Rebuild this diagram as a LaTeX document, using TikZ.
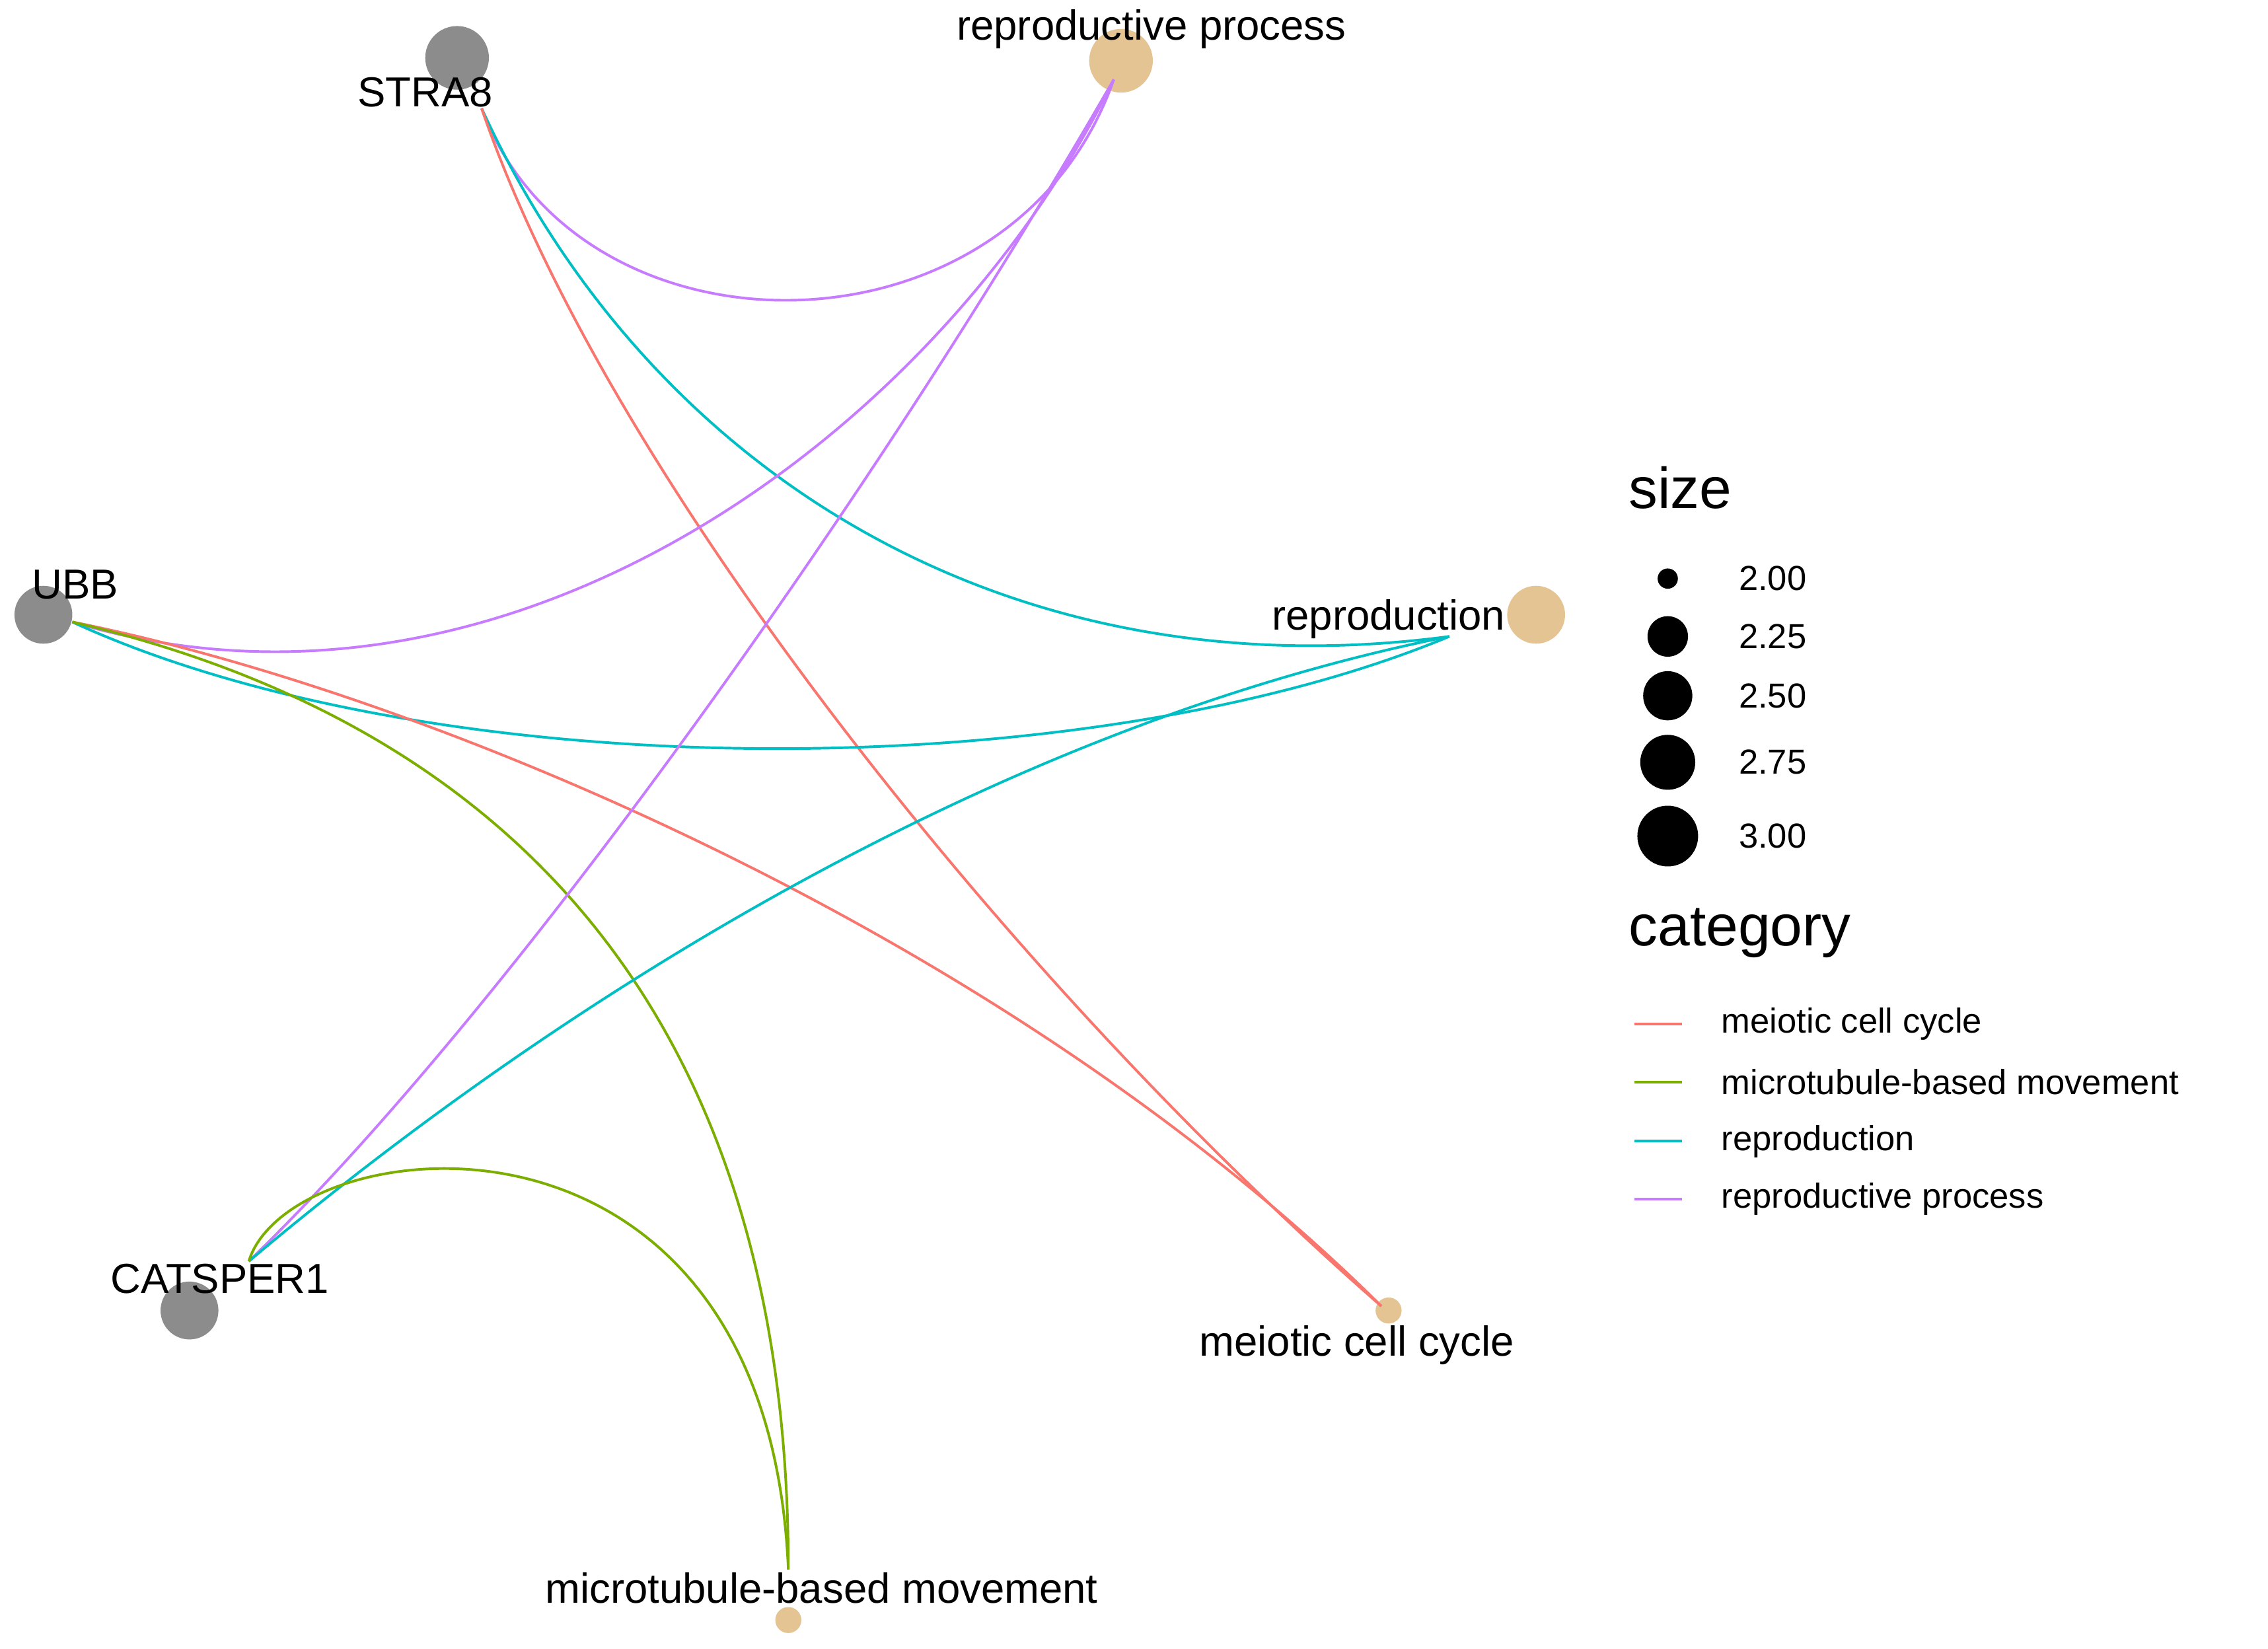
\documentclass[tikz,border=0pt]{standalone}
\usepackage{fontspec}
\setmainfont{Liberation Sans}
\begin{document}
\begin{tikzpicture}[x=1pt,y=-1pt,
 gene/.style={circle,fill=gray!50!black!60,draw=none,inner sep=0pt},
 cat/.style={circle,fill=tan,draw=none,inner sep=0pt},
 lab/.style={font=\fontsize{29}{32}\selectfont,inner sep=0pt},
 leg/.style={font=\fontsize{24}{28}\selectfont,inner sep=0pt,anchor=west},
 ttl/.style={font=\fontsize{40}{44}\selectfont,inner sep=0pt,anchor=west},
 e/.style={line width=1.8pt}]
\definecolor{tan}{RGB}{229,196,148}
\definecolor{cr}{HTML}{F8766D}\definecolor{cg}{HTML}{7CAE00}
\definecolor{cc}{HTML}{00BFC4}\definecolor{cp}{HTML}{C77CFF}
\useasboundingbox (0,0) rectangle (1568,1140);
\fill[white] (0,0) rectangle (1568,1140);
% nodes
\node[gene,minimum size=44pt] (STRA8) at (316,40) {};
\node[cat,minimum size=44pt] (RP) at (775,42) {};
\node[gene,minimum size=40pt] (UBB) at (30,425) {};
\node[cat,minimum size=40pt] (R) at (1062,425) {};
\node[gene,minimum size=40pt] (CAT) at (131,906) {};
\node[cat,minimum size=18pt] (M) at (960,906) {};
\node[cat,minimum size=18pt] (T) at (545,1120) {};
\coordinate (sE) at (333,75); \coordinate (rpE) at (770,55);
\coordinate (rE) at (1002,440); \coordinate (uE) at (50,430);
\coordinate (cE) at (172,872); \coordinate (mE) at (955,903);
\coordinate (tE) at (545,1085);
% edges
\draw[e,cp] (sE) .. controls (400,255) and (700,255) .. (rpE);
\draw[e,cc] (sE) .. controls (450,330) and (700,480) .. (rE);
\draw[e,cr] (sE) .. controls (420,330) and (700,680) .. (mE);
\draw[e,cp] (uE) .. controls (350,520) and (650,300) .. (rpE);
\draw[e,cc] (uE) .. controls (300,545) and (750,545) .. (rE);
\draw[e,cr] (uE) .. controls (300,480) and (700,650) .. (mE);
\draw[e,cg] (uE) .. controls (350,500) and (545,700) .. (tE);
\draw[e,cp] (cE) .. controls (350,700) and (600,350) .. (rpE);
\draw[e,cc] (cE) .. controls (400,680) and (700,500) .. (rE);
\draw[e,cg] (cE) .. controls (200,780) and (530,740) .. (tE);
% labels
\node[lab] (lS) at (294,64) {STRA8};
\node[lab] (lRP) at (796,20) {reproductive process};
\node[lab] (lU) at (52,404) {UBB};
\node[lab] (lR) at (960,428) {reproduction};
\node[lab] (lC) at (152,884) {CATSPER1};
\node[lab] (lM) at (938,930) {meiotic cell cycle};
\node[lab] (lT) at (568,1098) {microtubule-based movement};
% legend
\node[ttl] (ts) at (1126,337) {size};
\foreach \y/\r/\t [count=\i] in {400/7/2.00,440/14/2.25,481/17/2.50,527/19/2.75,578/21/3.00}{
 \node[circle,fill=black,inner sep=0pt,minimum size=2*\r pt] (d\i) at (1153,\y) {};
 \node[leg] (dl\i) at (1202,\y) {\t};}
\node[ttl] (tc) at (1126,645) {category};
\foreach \y/\c/\t [count=\i] in {708/cr/meiotic cell cycle,748/cg/microtubule-based movement,789/cc/reproduction,829/cp/reproductive process}{
 \coordinate (ka\i) at (1130,\y); \coordinate (kb\i) at (1163,\y);
 \draw[e,\c] (ka\i) -- (kb\i);
 \node[leg] (kl\i) at (1190,\y) {\t};}
\end{tikzpicture}
\end{document}
